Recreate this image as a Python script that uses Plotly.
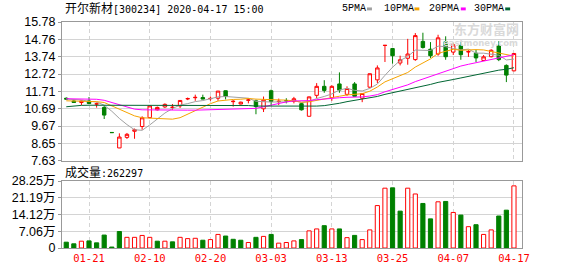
import plotly.graph_objects as go
import pandas as pd

# ---------------- data ----------------
dates = ["2020-01-16", "2020-01-17", "2020-01-20", "2020-01-21", "2020-01-22", "2020-01-23",
         "2020-02-03", "2020-02-04", "2020-02-05", "2020-02-06", "2020-02-07", "2020-02-10",
         "2020-02-11", "2020-02-12", "2020-02-13", "2020-02-14", "2020-02-17", "2020-02-18",
         "2020-02-19", "2020-02-20", "2020-02-21", "2020-02-24", "2020-02-25", "2020-02-26",
         "2020-02-27", "2020-02-28", "2020-03-02", "2020-03-03", "2020-03-04", "2020-03-05",
         "2020-03-06", "2020-03-09", "2020-03-10", "2020-03-11", "2020-03-12", "2020-03-13",
         "2020-03-16", "2020-03-17", "2020-03-18", "2020-03-19", "2020-03-20", "2020-03-23",
         "2020-03-24", "2020-03-25", "2020-03-26", "2020-03-27", "2020-03-30", "2020-03-31",
         "2020-04-01", "2020-04-02", "2020-04-03", "2020-04-07", "2020-04-08", "2020-04-09",
         "2020-04-10", "2020-04-13", "2020-04-14", "2020-04-15", "2020-04-16", "2020-04-17"]

open_ = [11.30, 11.14, 11.05, 11.14, 10.96, 10.76, 9.29, 8.38, 9.00, 9.36,
         9.64, 10.16, 10.62, 10.79, 10.76, 10.85, 11.26, 11.33, 11.34, 11.27,
         11.30, 11.74, 11.10, 10.96, 11.18, 11.15, 10.68, 11.74, 11.10, 11.16,
         11.11, 10.98, 10.24, 11.47, 12.00, 11.34, 12.14, 11.53, 12.14, 11.30,
         11.95, 12.38, 14.40, 14.22, 13.37, 13.65, 13.57, 14.64, 14.18, 13.90,
         14.62, 14.01, 14.41, 14.02, 13.94, 13.52, 13.74, 14.37, 13.23, 12.91]
high = [11.35, 11.18, 11.16, 11.37, 11.05, 10.84, 9.29, 9.24, 9.26, 9.52,
        10.24, 10.88, 10.81, 11.00, 10.96, 11.19, 11.34, 11.51, 11.51, 11.40,
        11.73, 11.75, 11.19, 11.10, 11.30, 11.22, 11.40, 11.81, 11.28, 11.30,
        11.38, 11.02, 11.40, 12.19, 12.36, 12.06, 12.82, 12.00, 12.25, 11.60,
        12.75, 13.23, 14.41, 14.26, 13.80, 14.79, 15.13, 15.15, 14.60, 15.03,
        14.94, 14.56, 14.65, 14.14, 14.14, 13.84, 14.18, 14.65, 13.29, 13.94]
low = [11.20, 11.02, 10.90, 10.95, 10.75, 10.08, 9.28, 8.37, 8.91, 8.92,
       9.45, 10.12, 10.58, 10.73, 10.62, 10.73, 11.19, 11.15, 11.24, 11.15,
       11.15, 11.23, 10.81, 10.94, 11.00, 10.36, 10.49, 10.85, 10.90, 11.00,
       11.00, 10.58, 10.22, 11.30, 11.62, 11.15, 11.62, 11.44, 11.40, 11.07,
       11.92, 12.19, 13.43, 13.33, 13.23, 13.27, 13.50, 14.22, 13.67, 13.80,
       13.56, 13.84, 13.56, 13.73, 13.43, 13.49, 13.70, 13.48, 12.25, 12.88]
close = [11.25, 11.05, 11.14, 10.99, 10.97, 10.31, 9.28, 9.02, 9.18, 9.45,
         10.15, 10.85, 10.76, 10.94, 10.77, 11.17, 11.28, 11.35, 11.25, 11.29,
         11.72, 11.40, 11.12, 11.07, 11.20, 10.81, 11.19, 11.11, 11.12, 11.15,
         11.27, 10.62, 11.38, 12.00, 11.76, 12.00, 11.78, 11.87, 11.41, 11.58,
         12.74, 13.08, 14.41, 13.80, 13.56, 13.90, 14.98, 14.28, 13.80, 14.85,
         13.74, 14.44, 13.86, 14.04, 13.67, 13.73, 14.12, 13.57, 12.66, 13.93]

# volume in shares
volume = [24600, 17700, 28700, 30000, 21800, 54600, 4000, 69600, 45000, 45000,
          53000, 45000, 28700, 28700, 26000, 45000, 39600, 41000, 32800, 35500,
          57300, 50500, 36800, 32800, 23200, 45000, 49000, 57300, 20500, 23200,
          30000, 35500, 72300, 80500, 94200, 80500, 80500, 43700, 53200, 35500,
          76400, 179000, 252500, 254000, 155600, 252500, 228000, 188000, 123000, 195000,
          196500, 150000, 139000, 90000, 98300, 57300, 76400, 135000, 159700, 262297]
# volume bar direction (r = up vs previous close, g = down)
vol_dir = ["g", "g", "r", "g", "g", "g", "g", "g", "r", "r",
           "r", "r", "g", "r", "g", "r", "r", "r", "g", "r",
           "r", "g", "g", "g", "r", "g", "r", "g", "r", "r",
           "r", "g", "r", "r", "g", "r", "g", "r", "g", "r",
           "r", "r", "r", "g", "g", "r", "r", "g", "g", "r",
           "g", "r", "g", "r", "g", "r", "r", "g", "g", "r"]

# moving averages: first values (earlier history not shown)
ma5_head = [11.25, 11.22, 11.20, 11.12]
ma10_head = [11.15, 11.14, 11.14, 11.12, 11.10, 11.05, 10.85, 10.62, 10.42]
ma20_head = [11.27, 11.27, 11.27, 11.26, 11.24, 11.18, 11.05, 10.92, 10.76, 10.66,
             10.62, 10.61, 10.60, 10.60, 10.60, 10.60, 10.60, 10.60, 10.61]
ma30_head = [10.80, 10.85, 10.88, 10.89, 10.89, 10.89, 10.89, 10.89, 10.89, 10.89,
             10.89, 10.89, 10.89, 10.89, 10.89, 10.87, 10.87, 10.87, 10.87, 10.87,
             10.87, 10.87, 10.87, 10.87, 10.87, 10.84, 10.84, 10.84, 10.84]

price_tick_labels = ["7.63", "8.65", "9.67", "10.69", "11.71", "12.72", "13.74", "14.76", "15.78"]
vol_tick_labels = ["0", "7.06万", "14.12万", "21.19万", "28.25万"]
x_tick_dates = ["2020-01-21", "2020-02-10", "2020-02-20", "2020-03-03",
                "2020-03-13", "2020-03-25", "2020-04-07", "2020-04-17"]

title_name = "开尔新材"
title_rest = "[300234] 2020-04-17 15:00"
vol_label = "成交量"
last_volume = "262297"
ma_names = ["5PMA", "10PMA", "20PMA", "30PMA"]
ma_colors = ["#a0a0a0", "#f5a300", "#ff00ff", "#006633"]

RED = "#ff0000"
GREEN = "#008000"

# ---------------- derived ----------------
cs = pd.Series(close)


def moving_avg(n, head):
    m = cs.rolling(n).mean().round(3).tolist()
    return head + m[len(head):]


mas = [moving_avg(5, ma5_head), moving_avg(10, ma10_head),
       moving_avg(20, ma20_head), moving_avg(30, ma30_head)]

p_lo = float(price_tick_labels[0])
p_hi = float(price_tick_labels[-1])
price_tickvals = [p_lo + k * (p_hi - p_lo) / (len(price_tick_labels) - 1)
                  for k in range(len(price_tick_labels))]
v_hi = 282500
vol_tickvals = [k * v_hi / (len(vol_tick_labels) - 1) for k in range(len(vol_tick_labels))]

# ---------------- figure ----------------
W, H = 578, 276
L, R, T, B = 56, 56, 22, 21
PW, PH = W - L - R, H - T - B


def pxx(x):
    return (x - L) / PW


def pxy(y):
    return (H - B - y) / PH


price_dom = [pxy(165), 1.0]
vol_dom = [0.0, pxy(186)]

fig = go.Figure()

fig.add_trace(go.Candlestick(
    x=dates, open=open_, high=high, low=low, close=close,
    increasing=dict(line=dict(color=RED, width=1), fillcolor="#ffffff"),
    decreasing=dict(line=dict(color=GREEN, width=1), fillcolor=GREEN),
    whiskerwidth=0, xaxis="x", yaxis="y", hoverinfo="skip", showlegend=False))

for name, col, vals in zip(ma_names, ma_colors, mas):
    fig.add_trace(go.Scatter(x=dates, y=vals, mode="lines", name=name,
                             line=dict(color=col, width=1), xaxis="x", yaxis="y",
                             hoverinfo="skip", showlegend=False))

fill_cols = ["#ffffff" if d == "r" else GREEN for d in vol_dir]
line_cols = [RED if d == "r" else GREEN for d in vol_dir]
fig.add_trace(go.Bar(x=dates, y=volume, width=0.55,
                     marker=dict(color=fill_cols, line=dict(color=line_cols, width=1)),
                     xaxis="x2", yaxis="y2", hoverinfo="skip", showlegend=False))

xrange = [-0.56, len(dates) - 1 + 1.06]
frame = "#999999"
grid = "#d4d4d4"
tick_font = dict(family="Liberation Sans, Noto Sans CJK SC", size=12.5, color="#000000")

fig.update_layout(
    width=W, height=H, margin=dict(l=L, r=R, t=T, b=B, pad=0),
    paper_bgcolor="#ffffff", plot_bgcolor="#ffffff", showlegend=False,
    boxgap=0.35,
    xaxis=dict(type="category", categoryorder="array", categoryarray=dates,
               domain=[0, 1], anchor="y", range=xrange,
               rangeslider=dict(visible=False),
               tickmode="array", tickvals=x_tick_dates, showticklabels=False, ticks="",
               showgrid=True, gridcolor=grid, griddash="4px,3px", gridwidth=1,
               showline=True, mirror=True, linecolor=frame, linewidth=1, zeroline=False),
    yaxis=dict(domain=price_dom, anchor="x", range=[p_lo, p_hi],
               tickmode="array", tickvals=price_tickvals, ticktext=price_tick_labels,
               ticks="outside", ticklen=3, tickcolor=frame, tickfont=tick_font,
               showgrid=True, gridcolor=grid, gridwidth=1,
               showline=True, mirror=True, linecolor=frame, linewidth=1, zeroline=False),
    xaxis2=dict(type="category", categoryorder="array", categoryarray=dates,
                domain=[0, 1], anchor="y2", range=xrange,
                tickmode="array", tickvals=x_tick_dates,
                ticktext=[d[5:] for d in x_tick_dates], ticks="",
                tickfont=dict(family="DejaVu Sans Mono", size=10.5, color=RED),
                showgrid=True, gridcolor=grid, griddash="4px,3px", gridwidth=1,
                showline=True, mirror=True, linecolor=frame, linewidth=1, zeroline=False),
    yaxis2=dict(domain=vol_dom, anchor="x2", range=[0, v_hi],
                tickmode="array", tickvals=vol_tickvals, ticktext=vol_tick_labels,
                ticks="outside", ticklen=3, tickcolor=frame, tickfont=tick_font,
                showgrid=True, gridcolor=grid, gridwidth=1,
                showline=True, mirror=True, linecolor=frame, linewidth=1, zeroline=False),
)

mono = "DejaVu Sans Mono, Noto Sans CJK SC"
ann = []
ann.append(dict(x=pxx(57), y=pxy(8.5), xref="paper", yref="paper", xanchor="left", yanchor="middle",
                showarrow=False, font=dict(family=mono, size=10, color="#000000"),
                text=f'<span style="font-size:12px">{title_name}</span>{title_rest}'))
ann.append(dict(x=pxx(57), y=pxy(177.5), xref="paper", yref="paper", xanchor="left", yanchor="middle",
                showarrow=False, font=dict(family=mono, size=10, color="#000000"),
                text=f'<span style="font-size:12px">{vol_label}</span>:{last_volume}'))

leg_text_x = [338, 380, 425.7, 471.7]
leg_box_x = [365, 413, 460, 505]
shapes = []
for name, col, tx, bx in zip(ma_names, ma_colors, leg_text_x, leg_box_x):
    ann.append(dict(x=pxx(tx), y=pxy(8.5), xref="paper", yref="paper", xanchor="left",
                    yanchor="middle", showarrow=False,
                    font=dict(family="Liberation Mono", size=10, color="#000000"), text=name))
    shapes.append(dict(type="rect", xref="paper", yref="paper",
                       x0=pxx(bx), x1=pxx(bx + 5), y0=pxy(10), y1=pxy(7),
                       fillcolor=col, line=dict(width=0)))

# watermark
ann.append(dict(x=pxx(521), y=pxy(29), xref="paper", yref="paper", xanchor="right", yanchor="middle",
                showarrow=False, font=dict(family="Noto Sans CJK SC", size=13, color="#d9d9d9"),
                text="<b>东方财富网</b>"))
ann.append(dict(x=pxx(520), y=pxy(44), xref="paper", yref="paper", xanchor="right", yanchor="middle",
                showarrow=False, font=dict(family="DejaVu Sans", size=8.5, color="#d9d9d9"),
                text="<b>eastmoney.com</b>"))

fig.update_layout(annotations=ann, shapes=shapes)

fig.write_html("out.html")
